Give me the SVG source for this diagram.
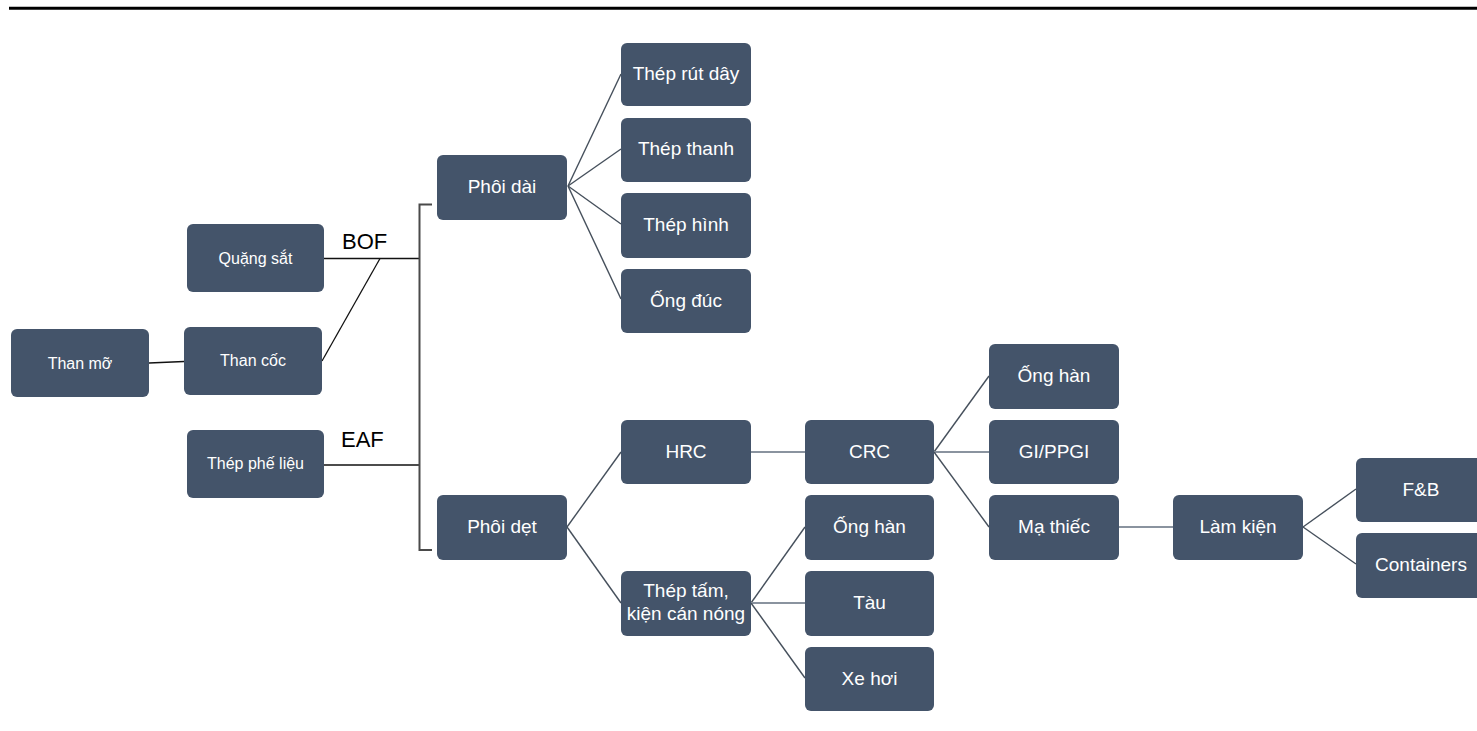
<svg xmlns="http://www.w3.org/2000/svg" width="1477" height="731" viewBox="0 0 1477 731">
<style>
.box{fill:#44546a;}
.t{fill:#ffffff;font-family:"Liberation Sans",Arial,sans-serif;font-size:19px;text-anchor:middle;dominant-baseline:central;}
.s{font-size:16px;}
.lbl{fill:#000;font-family:"Liberation Sans",Arial,sans-serif;font-size:22px;}
.k{stroke:#111;stroke-width:1.3;fill:none;}
.br{stroke:#4a4a4a;stroke-width:2;fill:none;}
.d{stroke:#46505c;stroke-width:1.4;fill:none;}
.h{stroke:#8a939f;stroke-width:2;fill:none;}
</style>
<rect x="0" y="0" width="1477" height="731" fill="#ffffff"/>
<line x1="9" y1="8.3" x2="1477" y2="8.3" stroke="#000" stroke-width="3"/>
<g id="connectors">
<line class="k" x1="149" y1="363" x2="184" y2="361.5"/>
<line class="k" x1="324" y1="258.5" x2="419" y2="258.5"/>
<line class="k" x1="322" y1="361" x2="380" y2="258.5"/>
<line class="k" x1="324" y1="465" x2="419" y2="465"/>
<path class="br" d="M432 204.5 H419.5 V550 H432"/>
<line class="d" x1="568" y1="186" x2="621" y2="74"/>
<line class="d" x1="568" y1="186" x2="621" y2="149"/>
<line class="d" x1="568" y1="186" x2="621" y2="224"/>
<line class="d" x1="568" y1="186" x2="621" y2="299"/>
<line class="d" x1="567" y1="527" x2="621" y2="452"/>
<line class="d" x1="567" y1="527" x2="621" y2="603"/>
<line class="h" x1="751" y1="452" x2="805" y2="452"/>
<line class="d" x1="751" y1="603" x2="805" y2="527"/>
<line class="h" x1="751" y1="603" x2="805" y2="603"/>
<line class="d" x1="751" y1="603" x2="805" y2="678"/>
<line class="d" x1="934" y1="452" x2="989" y2="376"/>
<line class="h" x1="934" y1="452" x2="989" y2="452"/>
<line class="d" x1="934" y1="452" x2="989" y2="527"/>
<line class="h" x1="1119" y1="527" x2="1173" y2="527"/>
<line class="d" x1="1303" y1="527" x2="1356" y2="489"/>
<line class="d" x1="1303" y1="527" x2="1356" y2="564"/>
</g>
<text class="lbl" x="342" y="249">BOF</text>
<text class="lbl" x="341" y="447">EAF</text>
<g id="than-mo"><rect class="box" x="11" y="329" width="138" height="68" rx="6"/><text class="t s" x="80" y="363">Than mỡ</text></g>
<g id="quang-sat"><rect class="box" x="187" y="224" width="137" height="68" rx="6"/><text class="t s" x="255.5" y="258">Quặng sắt</text></g>
<g id="than-coc"><rect class="box" x="184" y="327" width="138" height="68" rx="6"/><text class="t s" x="253" y="360">Than cốc</text></g>
<g id="thep-phe-lieu"><rect class="box" x="187" y="430" width="137" height="68" rx="6"/><text class="t s" x="255.5" y="463">Thép phế liệu</text></g>
<g id="phoi-dai"><rect class="box" x="437" y="155" width="130" height="65" rx="6"/><text class="t" x="502" y="186">Phôi dài</text></g>
<g id="phoi-det"><rect class="box" x="437" y="495" width="130" height="65" rx="6"/><text class="t" x="502" y="526">Phôi dẹt</text></g>
<g id="thep-rut-day"><rect class="box" x="621" y="43" width="130" height="63" rx="6"/><text class="t" x="686" y="73">Thép rút dây</text></g>
<g id="thep-thanh"><rect class="box" x="621" y="118" width="130" height="64" rx="6"/><text class="t" x="686" y="148">Thép thanh</text></g>
<g id="thep-hinh"><rect class="box" x="621" y="193" width="130" height="65" rx="6"/><text class="t" x="686" y="224">Thép hình</text></g>
<g id="ong-duc"><rect class="box" x="621" y="269" width="130" height="64" rx="6"/><text class="t" x="686" y="300">Ống đúc</text></g>
<g id="hrc"><rect class="box" x="621" y="420" width="130" height="64" rx="6"/><text class="t" x="686" y="451">HRC</text></g>
<g id="thep-tam"><rect class="box" x="621" y="571" width="130" height="65" rx="6"/><text class="t" x="686" y="590">Thép tấm,</text><text class="t" x="686" y="613">kiện cán nóng</text></g>
<g id="crc"><rect class="box" x="805" y="420" width="129" height="64" rx="6"/><text class="t" x="869.5" y="451">CRC</text></g>
<g id="ong-han-2"><rect class="box" x="805" y="495" width="129" height="65" rx="6"/><text class="t" x="869.5" y="526">Ống hàn</text></g>
<g id="tau"><rect class="box" x="805" y="571" width="129" height="65" rx="6"/><text class="t" x="869.5" y="602">Tàu</text></g>
<g id="xe-hoi"><rect class="box" x="805" y="647" width="129" height="64" rx="6"/><text class="t" x="869.5" y="678">Xe hơi</text></g>
<g id="ong-han-1"><rect class="box" x="989" y="344" width="130" height="65" rx="6"/><text class="t" x="1054" y="375">Ống hàn</text></g>
<g id="gi-ppgi"><rect class="box" x="989" y="420" width="130" height="64" rx="6"/><text class="t" x="1054" y="451">GI/PPGI</text></g>
<g id="ma-thiec"><rect class="box" x="989" y="495" width="130" height="65" rx="6"/><text class="t" x="1054" y="526">Mạ thiếc</text></g>
<g id="lam-kien"><rect class="box" x="1173" y="495" width="130" height="65" rx="6"/><text class="t" x="1238" y="526">Làm kiện</text></g>
<g id="fb"><rect class="box" x="1356" y="458" width="130" height="64" rx="6"/><text class="t" x="1421" y="489">F&amp;B</text></g>
<g id="containers"><rect class="box" x="1356" y="533" width="130" height="65" rx="6"/><text class="t" x="1421" y="564">Containers</text></g>
</svg>
